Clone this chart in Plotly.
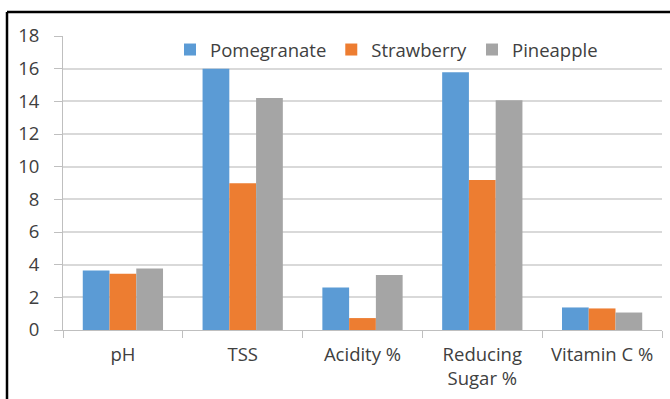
import plotly.graph_objects as go

categories = ["pH", "TSS", "Acidity %", "Reducing<br>Sugar %", "Vitamin C %"]
pomegranate = [3.64, 16.0, 2.6, 15.78, 1.38]
strawberry = [3.45, 8.98, 0.73, 9.18, 1.32]
pineapple = [3.77, 14.2, 3.36, 14.06, 1.07]
y_ticks = [0, 2, 4, 6, 8, 10, 12, 14, 16, 18]

W, H = 670, 399
L, R, T, B = 63, 8, 36, 69
FONT = "Open Sans"
TXT = "#404040"

fig = go.Figure()
for name, vals, col in [("Pomegranate", pomegranate, "#5B9BD5"),
                        ("Strawberry", strawberry, "#ED7D31"),
                        ("Pineapple", pineapple, "#A5A5A5")]:
    fig.add_trace(go.Bar(name=name, x=categories, y=vals, marker_color=col,
                         marker_line_width=0))

pw = W - L - R
ph = H - T - B
def px(x):
    return (x - L) / pw
def py(y):
    return (H - B - y) / ph

fig.update_layout(
    width=W, height=H,
    margin=dict(l=L, r=R, t=T, b=B, autoexpand=False),
    paper_bgcolor="white", plot_bgcolor="white",
    barmode="group", bargap=0.33, bargroupgap=0,
    font=dict(family=FONT, size=18, color=TXT),
    legend=dict(orientation="h", x=px(386.5), xanchor="center", y=py(50), yanchor="middle",
                font=dict(family=FONT, size=18.5, color=TXT), bgcolor="rgba(0,0,0,0)",
                itemwidth=30, tracegroupgap=0),
    xaxis=dict(type="category", showgrid=False, showline=True, linecolor="#BFBFBF",
               linewidth=1, ticks="outside", tickson="boundaries", ticklen=7,
               tickcolor="#BFBFBF", ticklabelstandoff=8,
               tickfont=dict(family=FONT, size=18.5, color=TXT)),
    yaxis=dict(range=[0, 18], tickvals=y_ticks, showgrid=True, gridcolor="#D9D9D9",
               gridwidth=1.5, showline=True, linecolor="#BFBFBF", linewidth=1,
               ticks="outside", ticklen=8, tickcolor="#BFBFBF", zeroline=False,
               ticklabelstandoff=11, tickfont=dict(family=FONT, size=18.5, color=TXT)),
    shapes=[
        dict(type="line", xref="paper", yref="paper", x0=px(7), x1=px(675), y0=py(12), y1=py(12),
             line=dict(color="black", width=2.5)),
        dict(type="line", xref="paper", yref="paper", x0=px(7), x1=px(7), y0=py(12), y1=py(405),
             line=dict(color="black", width=2.5)),
    ],
)

fig.write_html("out.html", config={"displayModeBar": False},
               post_script="document.body.style.margin='0';document.body.style.padding='0';")
